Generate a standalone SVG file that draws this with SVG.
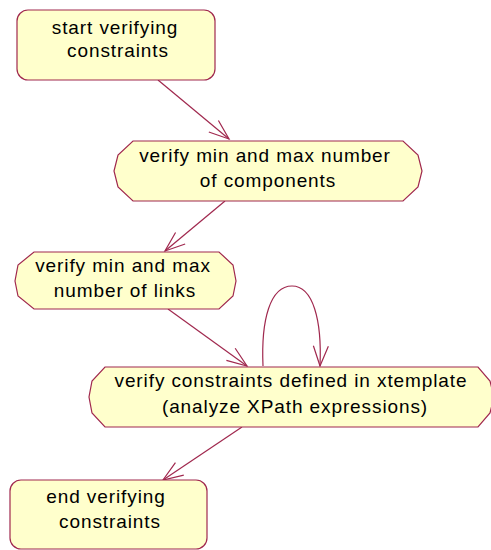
<svg xmlns="http://www.w3.org/2000/svg" width="491" height="550" viewBox="0 0 491 550">
<style>
.n{fill:#FFFFCC;stroke:#A0284E;stroke-width:1.2}
.t{font-family:"Liberation Sans",Arial,sans-serif;font-size:19px;letter-spacing:0.9px;fill:#000;text-anchor:middle}
.c{fill:none;stroke:#A0284E;stroke-width:1.2}
</style>
<defs>
<marker id="ah" markerUnits="userSpaceOnUse" markerWidth="24" markerHeight="20" viewBox="-22 -10 24 20" refX="0" refY="0" orient="auto">
<path d="M-20,-7.5 L0,0 L-20,7.5" fill="none" stroke="#A0284E" stroke-width="1.2"/>
</marker>
</defs>
<rect width="491" height="550" fill="#fff"/>
<g id="connectors">
<line class="c" x1="158" y1="80" x2="229" y2="139" marker-end="url(#ah)"/>
<line class="c" x1="225" y1="201" x2="165" y2="251" marker-end="url(#ah)"/>
<line class="c" x1="168" y1="309" x2="247" y2="366" marker-end="url(#ah)"/>
<path class="c" d="M263,366 C261,320 270,286 292,286 C313,286 322,320 320,366" marker-end="url(#ah)"/>
<line class="c" x1="242" y1="427" x2="163" y2="480" marker-end="url(#ah)"/>
</g>
<g id="start">
<rect class="n" x="17" y="10" width="198" height="70" rx="11"/>
<text class="t" x="115" y="34">start verifying</text>
<text class="t" x="118" y="57">constraints</text>
</g>
<g id="components">
<polygon class="n" points="133,141 403,141 418,155 422,171 418,187 403,201 133,201 118,187 114,171 118,155"/>
<text class="t" x="265" y="162">verify min and max number</text>
<text class="t" x="268" y="187">of components</text>
</g>
<g id="links">
<polygon class="n" points="34,252 219,252 233,265 236,281 233,296 219,309 34,309 18,296 15,281 18,265"/>
<text class="t" x="123" y="272">verify min and max</text>
<text class="t" x="125" y="297">number of links</text>
</g>
<g id="xtemplate">
<polygon class="n" points="105,367 478,367 490,381 494,397 490,413 478,427 105,427 92,413 89,397 92,381"/>
<text class="t" x="291" y="387">verify constraints defined in xtemplate</text>
<text class="t" x="295" y="413">(analyze XPath expressions)</text>
</g>
<g id="end">
<rect class="n" x="10" y="480" width="197" height="69" rx="11"/>
<text class="t" x="106" y="503">end verifying</text>
<text class="t" x="110" y="528">constraints</text>
</g>
</svg>
